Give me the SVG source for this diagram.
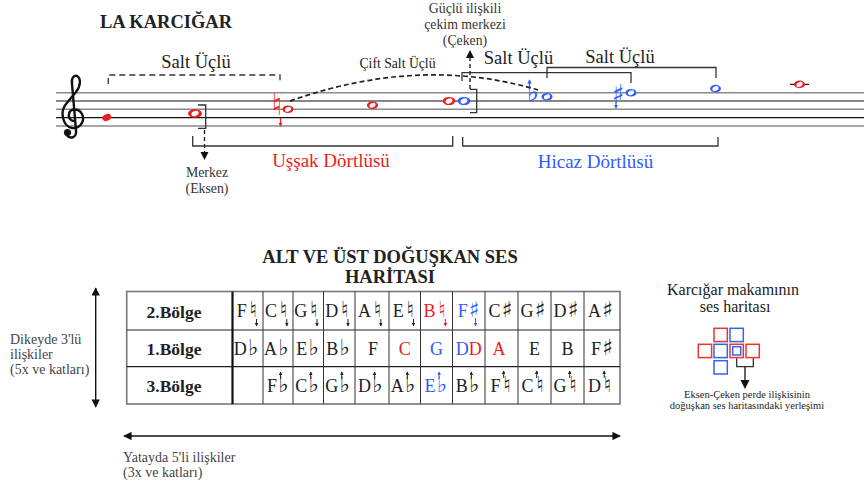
<svg xmlns="http://www.w3.org/2000/svg" width="864" height="488" viewBox="0 0 864 488">
<style>
.serif{font-family:"Liberation Serif","Times New Roman",serif;}
.acc{font-family:"DejaVu Sans",sans-serif;}
.t{fill:#222;}
.g{fill:#333;}
.red{fill:#ee1c1c;}
.blue{fill:#2f5cff;}
.ln{stroke:#333;stroke-width:1.3;fill:none;}
.dash{stroke:#333;stroke-width:1.3;fill:none;stroke-dasharray:6 4;}
.cell{font-size:18px;}
.ta{font-size:22px;}
.lbl{font-size:17.5px;font-weight:bold;}
.sq{fill:none;stroke-width:1.5;}
</style>
<defs>
<marker id="hk" viewBox="0 0 6 6" refX="5" refY="3" markerWidth="3.5" markerHeight="3.5" orient="auto"><path d="M0,0 L6,3 L0,6 z" fill="#222"/></marker>
<marker id="hr" viewBox="0 0 6 6" refX="5" refY="3" markerWidth="3.5" markerHeight="3.5" orient="auto"><path d="M0,0 L6,3 L0,6 z" fill="#ee1c1c"/></marker>
<marker id="hb" viewBox="0 0 6 6" refX="5" refY="3" markerWidth="3.5" markerHeight="3.5" orient="auto"><path d="M0,0 L6,3 L0,6 z" fill="#2f5cff"/></marker>
<marker id="big" viewBox="0 0 10 10" refX="9" refY="5" markerWidth="6" markerHeight="6" orient="auto-start-reverse"><path d="M0,0 L10,5 L0,10 z" fill="#111"/></marker>
</defs>

<g id="title"><text class="serif t" x="100" y="28" font-size="18.5" font-weight="bold">LA KARCIĞAR</text></g>

<g id="staff">
<line x1="56" y1="92.7" x2="864" y2="92.7" stroke="#8a8a8a" stroke-width="1.6"/>
<line x1="56" y1="101" x2="864" y2="101" stroke="#111" stroke-width="1.2"/>
<line x1="56" y1="109.3" x2="864" y2="109.3" stroke="#8a8a8a" stroke-width="1.6"/>
<line x1="56" y1="117.7" x2="864" y2="117.7" stroke="#111" stroke-width="1.2"/>
<line x1="56" y1="126" x2="864" y2="126" stroke="#8a8a8a" stroke-width="1.6"/>
<g id="clef">
<path d="M 66 134 C 70 140, 77 138, 76 130 L 72 84 C 71 78, 74 75, 77 76 C 81 78, 81 86, 76 92 L 66 104 C 60 111, 62 126, 72 128 C 81 129, 85 120, 82 114 C 79 108, 70 108, 69 114 C 68 119, 72 121, 74 121" fill="none" stroke="#111" stroke-width="2.4" stroke-linecap="round"/>
<circle cx="67.5" cy="132.5" r="3.6" fill="#111"/>
</g>
<line x1="790" y1="84.4" x2="809" y2="84.4" stroke="#111" stroke-width="1.2"/>
</g>

<g id="notes">
<ellipse cx="106.7" cy="117.5" rx="4.6" ry="3.3" transform="rotate(-20 106.7 117.5)" fill="#ee1c1c"/>
<g id="n2"><ellipse cx="195" cy="113.5" rx="7" ry="4.3" fill="#ee1c1c"/><ellipse cx="195" cy="113.5" rx="3.8" ry="2.4" transform="rotate(-25 195 113.5)" fill="#fff"/></g>
<g id="n3"><text class="acc red" x="277" y="115" font-size="30" text-anchor="middle">♮</text><line x1="280.5" y1="118" x2="280.5" y2="126" stroke="#ee1c1c" stroke-width="1.2" marker-end="url(#hr)"/>
<ellipse cx="288" cy="109.3" rx="5.5" ry="3.8" fill="#ee1c1c"/><ellipse cx="288" cy="109.3" rx="3.2" ry="2.2" transform="rotate(-25 288 109.3)" fill="#fff"/></g>
<g id="n4"><ellipse cx="372.5" cy="105.2" rx="5.5" ry="3.8" fill="#ee1c1c"/><ellipse cx="372.5" cy="105.2" rx="3.2" ry="2.2" transform="rotate(-25 372.5 105.2)" fill="#fff"/></g>
<g id="n5"><ellipse cx="449" cy="101" rx="6.3" ry="4.1" fill="#ee1c1c"/><ellipse cx="449" cy="101" rx="3.6" ry="2.4" transform="rotate(-25 449 101)" fill="#fff"/></g>
<g id="n6"><ellipse cx="464" cy="101" rx="6.3" ry="4.1" fill="#2f5cff"/><ellipse cx="464" cy="101" rx="3.6" ry="2.4" transform="rotate(-25 464 101)" fill="#fff"/></g>
<g id="n7"><text class="acc blue" x="533" y="101" font-size="26" text-anchor="middle">♭</text><line x1="529.5" y1="87" x2="529.5" y2="80" stroke="#2f5cff" stroke-width="1.2" marker-end="url(#hb)"/>
<ellipse cx="547" cy="96.8" rx="5.5" ry="3.8" fill="#2f5cff"/><ellipse cx="547" cy="96.8" rx="3.2" ry="2.2" transform="rotate(-25 547 96.8)" fill="#fff"/></g>
<g id="n8"><text class="acc blue" x="618" y="103" font-size="26" text-anchor="middle">♯</text><line x1="616" y1="102" x2="616" y2="108" stroke="#2f5cff" stroke-width="1.2" marker-end="url(#hb)"/>
<ellipse cx="631" cy="92.7" rx="5.5" ry="3.8" fill="#2f5cff"/><ellipse cx="631" cy="92.7" rx="3.2" ry="2.2" transform="rotate(-25 631 92.7)" fill="#fff"/></g>
<g id="n9"><ellipse cx="715.5" cy="88.6" rx="5.5" ry="3.8" fill="#2f5cff"/><ellipse cx="715.5" cy="88.6" rx="3.2" ry="2.2" transform="rotate(-25 715.5 88.6)" fill="#fff"/></g>
<g id="n10"><ellipse cx="799.5" cy="84.4" rx="5.5" ry="3.8" fill="#ee1c1c"/><ellipse cx="799.5" cy="84.4" rx="3.2" ry="2.2" transform="rotate(-25 799.5 84.4)" fill="#fff"/></g>
</g>

<g id="staff-labels">
<text class="serif t" x="196" y="67.7" font-size="18.5" text-anchor="middle">Salt Üçlü</text>
<text class="serif t" x="518.5" y="64" font-size="18.5" text-anchor="middle">Salt Üçlü</text>
<text class="serif t" x="620" y="63.3" font-size="18.5" text-anchor="middle">Salt Üçlü</text>
<text class="serif t" x="397.5" y="68.3" font-size="13.7" text-anchor="middle">Çift Salt Üçlü</text>
<text class="serif g" x="465" y="13.3" font-size="13.8" text-anchor="middle">Güçlü ilişkili</text>
<text class="serif g" x="465" y="29.3" font-size="13.8" text-anchor="middle">çekim merkezi</text>
<text class="serif g" x="465" y="45" font-size="13.8" text-anchor="middle">(Çeken)</text>
<text class="serif g" x="207" y="176.7" font-size="13.8" text-anchor="middle">Merkez</text>
<text class="serif g" x="207" y="192.7" font-size="13.8" text-anchor="middle">(Eksen)</text>
<text class="serif red" x="331" y="167" font-size="19" text-anchor="middle">Uşşak Dörtlüsü</text>
<text class="serif blue" x="595.5" y="168" font-size="19" text-anchor="middle">Hicaz Dörtlüsü</text>
</g>

<g id="connectors">
<path class="dash" d="M 108.3 84 L 108.3 75 L 280 75 L 280 84"/>
<path d="M 290 101 Q 420 55 538 90" fill="none" stroke="#222" stroke-width="1.7" stroke-dasharray="5 3"/>
<path class="ln" d="M 198 105 L 205.7 105 L 205.7 128.3 L 198 128.3"/>
<line x1="204.5" y1="130" x2="204.5" y2="154" stroke="#222" stroke-width="1.4" stroke-dasharray="4 3"/>
<path d="M 200.5 152 L 208.5 152 L 204.5 160 z" fill="#111"/>
<path class="ln" d="M 470 89.3 L 476.7 89.3 L 476.7 112.7 L 470 112.7"/>
<line x1="470" y1="89" x2="470" y2="58" stroke="#222" stroke-width="1.4" stroke-dasharray="4 3"/>
<path d="M 466 58 L 474 58 L 470 50 z" fill="#111"/>
<path class="ln" d="M 462 81 L 462 72.7 L 631 72.7 L 631 83"/>
<path class="ln" d="M 547 78 L 547 67.5 L 716 67.5 L 716 78"/>
<path class="ln" d="M 192.7 136 L 192.7 146 L 452.7 146 L 452.7 136"/>
<path class="ln" d="M 462.7 137 L 462.7 146 L 718 146 L 718 137"/>
<line x1="95.7" y1="288" x2="95.7" y2="407" stroke="#111" stroke-width="1.4" marker-start="url(#big)" marker-end="url(#big)"/>
<line x1="124" y1="436" x2="620" y2="436" stroke="#111" stroke-width="1.4" marker-start="url(#big)" marker-end="url(#big)"/>
<path class="ln" d="M 736.7 358.3 L 736.7 366.7 L 753.3 366.7 L 753.3 358.3"/>
<line x1="745" y1="366.7" x2="745" y2="381" stroke="#111" stroke-width="1.3"/>
<path d="M 740.5 380 L 749.5 380 L 745 389 z" fill="#111"/>
</g>

<g id="table-title">
<text class="serif t" x="390" y="262.7" font-size="18.5" font-weight="bold" text-anchor="middle">ALT VE ÜST DOĞUŞKAN SES</text>
<text class="serif t" x="390" y="283.3" font-size="18.5" font-weight="bold" text-anchor="middle">HARİTASI</text>
</g>

<g id="table">
<rect x="126.7" y="291.5" width="493.3" height="112.5" fill="none" stroke="#777" stroke-width="1.6"/>
<line x1="126.7" y1="330" x2="620" y2="330" stroke="#222" stroke-width="1.2"/>
<line x1="126.7" y1="366.7" x2="620" y2="366.7" stroke="#222" stroke-width="1.2"/>
<line x1="232.5" y1="291.5" x2="232.5" y2="404" stroke="#111" stroke-width="2.2"/>
<g stroke="#333" stroke-width="1">
<line x1="263" y1="291.5" x2="263" y2="404"/><line x1="293" y1="291.5" x2="293" y2="404"/><line x1="323.5" y1="291.5" x2="323.5" y2="404"/><line x1="355" y1="291.5" x2="355" y2="404"/><line x1="389" y1="291.5" x2="389" y2="404"/><line x1="420.5" y1="291.5" x2="420.5" y2="404"/><line x1="452.5" y1="291.5" x2="452.5" y2="404"/><line x1="485" y1="291.5" x2="485" y2="404"/><line x1="518" y1="291.5" x2="518" y2="404"/><line x1="551" y1="291.5" x2="551" y2="404"/><line x1="584" y1="291.5" x2="584" y2="404"/>
</g>
<text class="serif t lbl" x="174" y="318" text-anchor="middle">2.Bölge</text>
<text class="serif t lbl" x="174" y="355" text-anchor="middle">1.Bölge</text>
<text class="serif t lbl" x="174" y="391.5" text-anchor="middle">3.Bölge</text>

<g id="row1">
<text class="serif t cell" x="246.7" y="317" text-anchor="end">F</text><text class="acc t ta" x="253.2" y="317" text-anchor="middle">♮</text><line x1="256.5" y1="319" x2="256.5" y2="326" stroke="#222" stroke-width="1" marker-end="url(#hk)"/>
<text class="serif t cell" x="277" y="317" text-anchor="end">C</text><text class="acc t ta" x="283.5" y="317" text-anchor="middle">♮</text><line x1="286.8" y1="319" x2="286.8" y2="326" stroke="#222" stroke-width="1" marker-end="url(#hk)"/>
<text class="serif t cell" x="307.2" y="317" text-anchor="end">G</text><text class="acc t ta" x="313.7" y="317" text-anchor="middle">♮</text><line x1="317" y1="319" x2="317" y2="326" stroke="#222" stroke-width="1" marker-end="url(#hk)"/>
<text class="serif t cell" x="338.2" y="317" text-anchor="end">D</text><text class="acc t ta" x="344.7" y="317" text-anchor="middle">♮</text><line x1="348" y1="319" x2="348" y2="326" stroke="#222" stroke-width="1" marker-end="url(#hk)"/>
<text class="serif t cell" x="371" y="317" text-anchor="end">A</text><text class="acc t ta" x="377.5" y="317" text-anchor="middle">♮</text><line x1="380.8" y1="319" x2="380.8" y2="326" stroke="#222" stroke-width="1" marker-end="url(#hk)"/>
<text class="serif t cell" x="403.7" y="317" text-anchor="end">E</text><text class="acc t ta" x="410.2" y="317" text-anchor="middle">♮</text><line x1="413.5" y1="319" x2="413.5" y2="326" stroke="#222" stroke-width="1" marker-end="url(#hk)"/>
<text class="serif red cell" x="435.5" y="317" text-anchor="end">B</text><text class="acc red ta" x="442" y="317" text-anchor="middle">♮</text><line x1="445.3" y1="319" x2="445.3" y2="326" stroke="#ee1c1c" stroke-width="1" marker-end="url(#hr)"/>
<text class="serif blue cell" x="467.7" y="317" text-anchor="end">F</text><text class="acc blue ta" x="474.2" y="317" text-anchor="middle">♯</text><line x1="475.5" y1="318" x2="475.5" y2="326" stroke="#2f5cff" stroke-width="1" marker-end="url(#hb)"/>
<text class="serif t cell" x="500.5" y="317" text-anchor="end">C</text><text class="acc t ta" x="507" y="317" text-anchor="middle">♯</text>
<text class="serif t cell" x="533.5" y="317" text-anchor="end">G</text><text class="acc t ta" x="540" y="317" text-anchor="middle">♯</text>
<text class="serif t cell" x="566.5" y="317" text-anchor="end">D</text><text class="acc t ta" x="573" y="317" text-anchor="middle">♯</text>
<text class="serif t cell" x="601" y="317" text-anchor="end">A</text><text class="acc t ta" x="607.5" y="317" text-anchor="middle">♯</text>
</g>

<g id="row2">
<text class="serif t cell" x="246.7" y="355" text-anchor="end">D</text><text class="acc t ta" x="253.2" y="355" text-anchor="middle">♭</text>
<text class="serif t cell" x="277" y="355" text-anchor="end">A</text><text class="acc t ta" x="283.5" y="355" text-anchor="middle">♭</text>
<text class="serif t cell" x="307.2" y="355" text-anchor="end">E</text><text class="acc t ta" x="313.7" y="355" text-anchor="middle">♭</text>
<text class="serif t cell" x="338.2" y="355" text-anchor="end">B</text><text class="acc t ta" x="344.7" y="355" text-anchor="middle">♭</text>
<text class="serif t cell" x="368" y="355">F</text>
<text class="serif red cell" x="404.7" y="355" text-anchor="middle">C</text>
<text class="serif blue cell" x="436.5" y="355" text-anchor="middle">G</text>
<text class="serif cell" x="468.7" y="355" text-anchor="middle"><tspan class="blue">D</tspan><tspan class="red">D</tspan></text>
<text class="serif red cell" x="499" y="355" text-anchor="middle">A</text>
<text class="serif t cell" x="534.5" y="355" text-anchor="middle">E</text>
<text class="serif t cell" x="567.5" y="355" text-anchor="middle">B</text>
<text class="serif t cell" x="601" y="355" text-anchor="end">F</text><text class="acc t ta" x="607.5" y="355" text-anchor="middle">♯</text>
</g>

<g id="row3">
<text class="serif t cell" x="277" y="392" text-anchor="end">F</text><text class="acc t ta" x="283.5" y="392" text-anchor="middle">♭</text><line x1="280.6" y1="379" x2="280.6" y2="372" stroke="#222" stroke-width="1" marker-end="url(#hk)"/>
<text class="serif t cell" x="307.2" y="392" text-anchor="end">C</text><text class="acc t ta" x="313.7" y="392" text-anchor="middle">♭</text><line x1="310.8" y1="379" x2="310.8" y2="372" stroke="#222" stroke-width="1" marker-end="url(#hk)"/>
<text class="serif t cell" x="338.2" y="392" text-anchor="end">G</text><text class="acc t ta" x="344.7" y="392" text-anchor="middle">♭</text><line x1="341.8" y1="379" x2="341.8" y2="372" stroke="#222" stroke-width="1" marker-end="url(#hk)"/>
<text class="serif t cell" x="371" y="392" text-anchor="end">D</text><text class="acc t ta" x="377.5" y="392" text-anchor="middle">♭</text><line x1="374.6" y1="379" x2="374.6" y2="372" stroke="#222" stroke-width="1" marker-end="url(#hk)"/>
<text class="serif t cell" x="403.7" y="392" text-anchor="end">A</text><text class="acc t ta" x="410.2" y="392" text-anchor="middle">♭</text><line x1="407.3" y1="379" x2="407.3" y2="372" stroke="#222" stroke-width="1" marker-end="url(#hk)"/>
<text class="serif blue cell" x="435.5" y="392" text-anchor="end">E</text><text class="acc blue ta" x="442" y="392" text-anchor="middle">♭</text><line x1="439.1" y1="379" x2="439.1" y2="372" stroke="#2f5cff" stroke-width="1" marker-end="url(#hb)"/>
<text class="serif t cell" x="467.7" y="392" text-anchor="end">B</text><text class="acc t ta" x="474.2" y="392" text-anchor="middle">♭</text><line x1="471.3" y1="379" x2="471.3" y2="372" stroke="#222" stroke-width="1" marker-end="url(#hk)"/>
<text class="serif t cell" x="500.5" y="392" text-anchor="end">F</text><text class="acc t ta" x="507" y="392" text-anchor="middle">♮</text><line x1="503.7" y1="378" x2="503.7" y2="371" stroke="#222" stroke-width="1" marker-end="url(#hk)"/>
<text class="serif t cell" x="533.5" y="392" text-anchor="end">C</text><text class="acc t ta" x="540" y="392" text-anchor="middle">♮</text><line x1="536.7" y1="378" x2="536.7" y2="371" stroke="#222" stroke-width="1" marker-end="url(#hk)"/>
<text class="serif t cell" x="566.5" y="392" text-anchor="end">G</text><text class="acc t ta" x="573" y="392" text-anchor="middle">♮</text><line x1="569.7" y1="378" x2="569.7" y2="371" stroke="#222" stroke-width="1" marker-end="url(#hk)"/>
<text class="serif t cell" x="601" y="392" text-anchor="end">D</text><text class="acc t ta" x="607.5" y="392" text-anchor="middle">♮</text><line x1="604.2" y1="378" x2="604.2" y2="371" stroke="#222" stroke-width="1" marker-end="url(#hk)"/>
</g>
</g>

<g id="axis-labels">
<text class="serif" fill="#444" x="10" y="344" font-size="14">Dikeyde 3'lü</text>
<text class="serif" fill="#444" x="10" y="359.3" font-size="14">ilişkiler</text>
<text class="serif" fill="#444" x="10" y="374" font-size="14">(5x ve katları)</text>
<text class="serif" fill="#444" x="123" y="461.7" font-size="14">Yatayda 5'li ilişkiler</text>
<text class="serif" fill="#444" x="123" y="477" font-size="14">(3x ve katları)</text>
</g>

<g id="map">
<text class="serif t" x="733" y="295" font-size="16" text-anchor="middle">Karcığar makamının</text>
<text class="serif t" x="735" y="311.7" font-size="16" text-anchor="middle">ses haritası</text>
<rect class="sq" x="714" y="328.3" width="13.3" height="13.3" stroke="#ee3333"/>
<rect class="sq" x="730" y="328.3" width="13.3" height="13.3" stroke="#3366ee"/>
<rect class="sq" x="698.3" y="344.3" width="13.3" height="13.3" stroke="#ee3333"/>
<rect class="sq" x="714" y="344.3" width="13.3" height="13.3" stroke="#3366ee"/>
<rect class="sq" x="730" y="344.3" width="13.3" height="13.3" stroke="#ee3333"/>
<rect class="sq" x="732.7" y="346.7" width="8" height="8.3" stroke="#3366ee"/>
<rect class="sq" x="746" y="344.3" width="13.3" height="13.3" stroke="#ee3333"/>
<rect class="sq" x="714" y="360.7" width="13.3" height="13.3" stroke="#3366ee"/>
<text class="serif t" x="747" y="398.3" font-size="10.5" text-anchor="middle">Eksen-Çeken perde ilişkisinin</text>
<text class="serif t" x="747" y="409" font-size="10.5" text-anchor="middle">doğuşkan ses haritasındaki yerleşimi</text>
</g>
</svg>
